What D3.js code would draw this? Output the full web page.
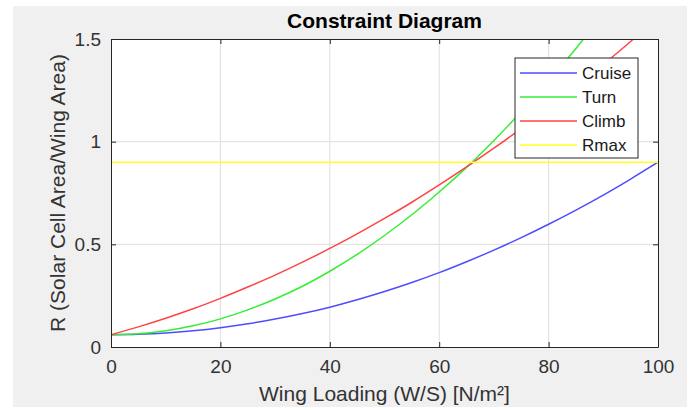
<!DOCTYPE html>
<html>
<head>
<meta charset="utf-8">
<script src="https://d3js.org/d3.v7.min.js"></script>
<style>
  body { margin: 0; background: #fff; }
  svg { display: block; font-family: "Liberation Sans", Arial, sans-serif; }
</style>
</head>
<body>
<svg width="691" height="410"></svg>
<script>
// values
const wingLoading = [0, 5, 10, 15, 20, 25, 30, 35, 40, 45, 50, 55, 60, 65, 70, 75, 80, 85, 90, 95, 100];
const cruise = [0.06, 0.062, 0.068, 0.079, 0.094, 0.113, 0.136, 0.163, 0.194, 0.230, 0.270, 0.314, 0.362, 0.415, 0.472, 0.533, 0.598, 0.667, 0.740, 0.818, 0.90];
const turn   = [0.06, 0.065, 0.079, 0.103, 0.137, 0.181, 0.234, 0.296, 0.369, 0.451, 0.543, 0.644, 0.755, 0.875, 1.006, 1.146, 1.295, 1.454, 1.623, 1.80, 1.99];
const climb  = [0.06, 0.098, 0.140, 0.186, 0.237, 0.292, 0.350, 0.413, 0.480, 0.551, 0.626, 0.705, 0.789, 0.877, 0.968, 1.064, 1.164, 1.268, 1.376, 1.488, 1.605];
const rmax   = [0.9, 0.9];
const rmaxX  = [0, 100];

const seriesNames = ["Cruise", "Turn", "Climb", "Rmax"];
const seriesColors = ["#4d4dff", "#33ee33", "#ff4444", "#ffff22"];
const xTicks = [0, 20, 40, 60, 80, 100];
const yTicks = [0, 0.5, 1, 1.5];

const svg = d3.select("svg");
const margin = { top: 39, right: 33, bottom: 63, left: 111 };
const width = 691 - margin.left - margin.right;
const height = 410 - margin.top - margin.bottom;

// grey figure background inside the white strip of the screenshot
svg.append("rect").attr("x", 13).attr("y", 6).attr("width", 674).attr("height", 401).style("fill", "#f0f0f0");

const x = d3.scaleLinear().domain([0, 100]).range([0, width]);
const y = d3.scaleLinear().domain([0, 1.5]).range([height, 0]);

const g = svg.append("g").attr("transform", "translate(" + margin.left + "," + margin.top + ")");

g.append("rect").attr("width", width).attr("height", height).style("fill", "#fff");

g.append("defs").append("clipPath").attr("id", "clip")
  .append("rect").attr("width", width).attr("height", height);

// grid
g.append("g").selectAll("line").data(xTicks.slice(1, -1)).enter().append("line")
  .attr("x1", d => x(d)).attr("x2", d => x(d)).attr("y1", 0).attr("y2", height)
  .style("stroke", "#dedede").style("stroke-width", 1);
g.append("g").selectAll("line").data(yTicks.slice(1, -1)).enter().append("line")
  .attr("y1", d => y(d)).attr("y2", d => y(d)).attr("x1", 0).attr("x2", width)
  .style("stroke", "#dedede").style("stroke-width", 1);

// curves
const line = d3.line().x(d => x(d[0])).y(d => y(d[1])).curve(d3.curveMonotoneX);
const lines = g.append("g").attr("clip-path", "url(#clip)");
[cruise, turn, climb].forEach((vals, i) => {
  lines.append("path")
    .datum(wingLoading.map((w, j) => [w, vals[j]]))
    .attr("d", line)
    .style("fill", "none").style("stroke", seriesColors[i]).style("stroke-width", 1.5);
});
lines.append("path")
  .datum(rmaxX.map((w, j) => [w, rmax[j]]))
  .attr("d", line)
  .style("fill", "none").style("stroke", seriesColors[3]).style("stroke-width", 1.5);

// axes (MATLAB style, inward ticks, box)
const xAxis = d3.axisBottom(x).tickValues(xTicks).tickSizeInner(-5).tickSizeOuter(0).tickPadding(13);
const yAxis = d3.axisLeft(y).tickValues(yTicks).tickFormat(d3.format("")).tickSizeInner(-5).tickSizeOuter(0).tickPadding(10);

g.append("g").attr("transform", "translate(0," + height + ")").call(xAxis);
g.append("g").call(yAxis);
g.append("g").call(d3.axisTop(x).tickValues(xTicks).tickSizeInner(-5).tickSizeOuter(0).tickFormat(""));
g.append("g").attr("transform", "translate(" + width + ",0)")
  .call(d3.axisRight(y).tickValues(yTicks).tickSizeInner(-5).tickSizeOuter(0).tickFormat(""));

g.selectAll(".domain").style("stroke", "#262626");
g.selectAll(".tick line").style("stroke", "#262626");
g.selectAll(".tick text").style("font-size", "19px").style("fill", "#333")
  .style("font-family", "Liberation Sans, Arial, sans-serif");

// title and axis labels
svg.append("text").attr("x", margin.left + width / 2).attr("y", 28)
  .style("text-anchor", "middle").style("font-size", "21px").style("font-weight", "bold").style("fill", "#000")
  .text("Constraint Diagram");

svg.append("text").attr("x", margin.left + width / 2).attr("y", 401)
  .style("text-anchor", "middle").style("font-size", "21px").style("fill", "#333")
  .text("Wing Loading (W/S) [N/m²]");

svg.append("text")
  .attr("transform", "translate(65," + (margin.top + height / 2) + ") rotate(-90)")
  .style("text-anchor", "middle").style("font-size", "21px").style("fill", "#333")
  .text("R (Solar Cell Area/Wing Area)");

// legend
const legend = g.append("g").attr("transform", "translate(" + (515 - margin.left) + "," + (58 - margin.top) + ")");
legend.append("rect").attr("width", 123).attr("height", 100)
  .style("fill", "#fff").style("stroke", "#262626").style("stroke-width", 1);
seriesNames.forEach((name, i) => {
  const ly = 15 + i * 24;
  legend.append("line").attr("x1", 5).attr("x2", 62).attr("y1", ly).attr("y2", ly)
    .style("stroke", seriesColors[i]).style("stroke-width", 1.5);
  legend.append("text").attr("x", 67).attr("y", ly).attr("dy", "0.35em")
    .style("font-size", "17px").style("fill", "#1a1a1a").text(name);
});
</script>
</body>
</html>
